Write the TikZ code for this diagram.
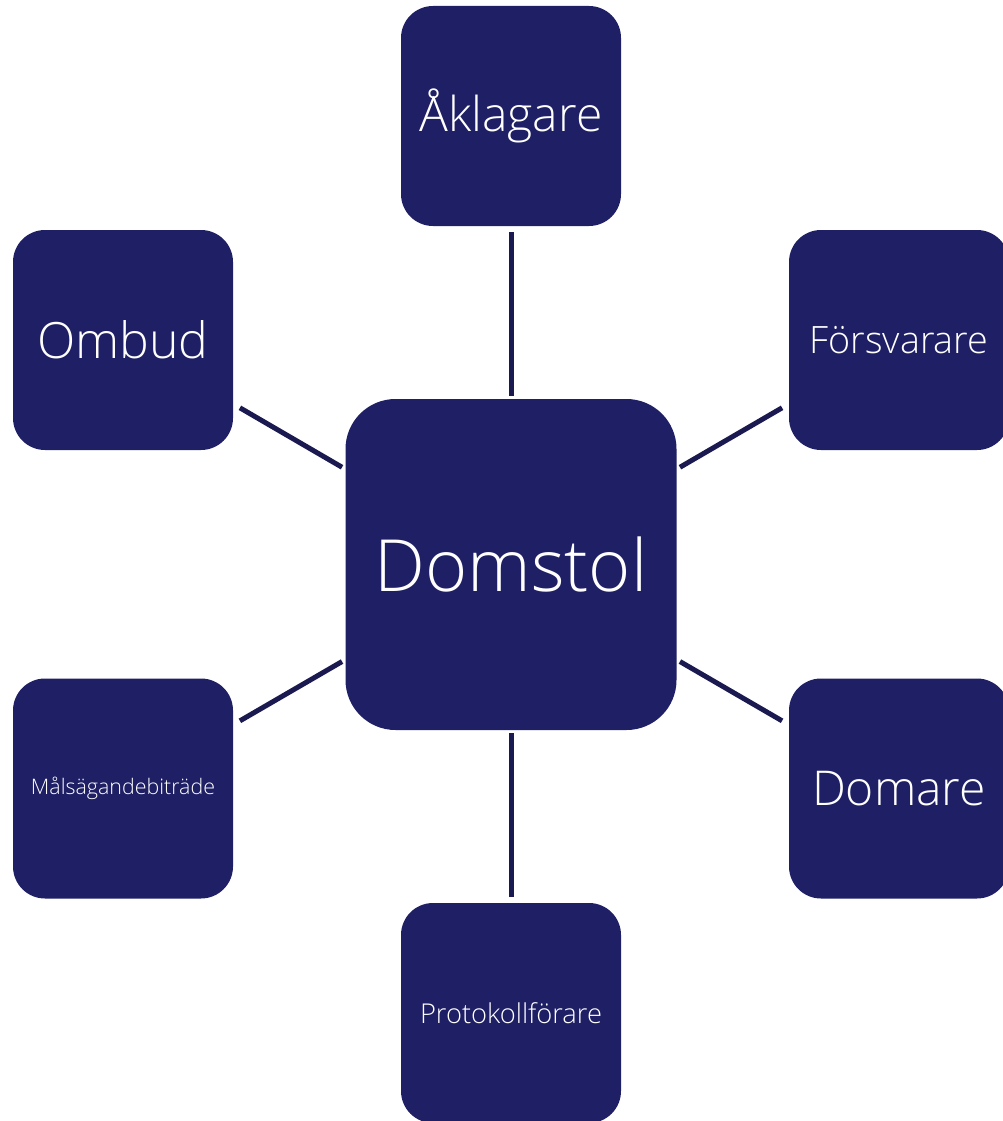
\documentclass[tikz,border=0pt]{standalone}
\usepackage{fontspec}
\setmainfont{Open Sans Light}
\definecolor{boxblue}{HTML}{1E1F64}
\definecolor{linkblue}{HTML}{1B1A50}
\begin{document}
\begin{tikzpicture}[x=1pt,y=-1pt,
  box/.style={fill=boxblue, rounded corners=32pt, minimum width=220pt, minimum height=220pt,
    inner sep=0pt, outer sep=0pt, text=white, align=center},
  bigbox/.style={box, rounded corners=50pt, minimum width=331pt, minimum height=331pt},
  link/.style={draw=linkblue, line width=5pt, shorten <=6pt, shorten >=3pt}]
\useasboundingbox (0,0) rectangle (1003,1121);
\clip (0,0) rectangle (1003,1121);
\node[bigbox, font=\fontsize{72}{76}\selectfont] (dom) at (511,564.5) {Domstol};
\node[box, font=\fontsize{48}{52}\selectfont] (akl) at (511,116) {Åklagare};
\node[box, font=\fontsize{50}{54}\selectfont] (omb) at (123,340) {Ombud};
\node[box, font=\fontsize{37.7}{40}\selectfont] (fors) at (899,340) {Försvarare};
\node[box, font=\fontsize{21.4}{26}\selectfont] (mal) at (123,788.5) {Målsägandebiträde};
\node[box, font=\fontsize{48}{52}\selectfont] (domare) at (899,788.5) {Domare};
\node[box, font=\fontsize{27.3}{30}\selectfont] (prot) at (511,1013) {Protokollförare};
\draw[link] (akl) -- (dom);
\draw[link, shorten <=8pt, shorten >=4pt] (omb) -- (dom);
\draw[link, shorten <=8pt, shorten >=4pt] (fors) -- (dom);
\draw[link, shorten <=8pt, shorten >=4pt] (mal) -- (dom);
\draw[link, shorten <=8pt, shorten >=4pt] (domare) -- (dom);
\draw[link, shorten <=6pt, shorten >=3pt] (prot) -- (dom);
\end{tikzpicture}
\end{document}
